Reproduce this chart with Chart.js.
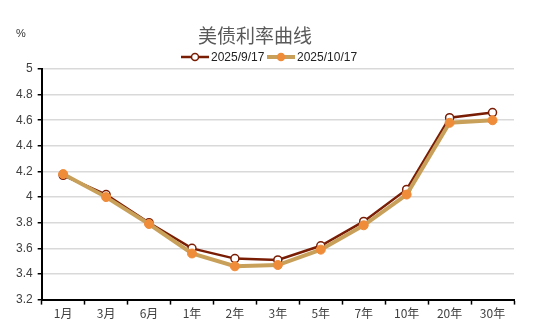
<!DOCTYPE html>
<html>
<head>
<meta charset="utf-8">
<script src="https://cdn.jsdelivr.net/npm/chart.js@4.4.1/dist/chart.umd.min.js"></script>
<style>
  html, body { margin: 0; padding: 0; background: #fff; }
  #wrap { width: 550px; height: 335px; }
</style>
</head>
<body>
<div id="wrap"><canvas id="curve"></canvas></div>
<script>
// tenors and yields (%)
const tenors = ["1月", "3月", "6月", "1年", "2年", "3年", "5年", "7年", "10年", "20年", "30年"];
const yieldsSep = [4.17, 4.02, 3.80, 3.60, 3.52, 3.51, 3.62, 3.81, 4.06, 4.62, 4.66];
const yieldsOct = [4.18, 4.00, 3.79, 3.56, 3.46, 3.47, 3.59, 3.78, 4.02, 4.58, 4.60];
const seriesNames = ["2025/9/17", "2025/10/17"];
const titleText = "美债利率曲线";
const unitText = "%";

const SEP_LINE = "#7a1d05";
const OCT_LINE = "#c9a05a";
const OCT_DOT = "#ef8c3a";

const FONT = "'Liberation Sans', Arial, sans-serif";
const CJK = "'Noto Sans CJK SC', sans-serif";

// title, unit label and legend drawn in the top padding
const headerPlugin = {
    id: "header",
    afterDraw(chart) {
        const ctx = chart.ctx;
        ctx.save();
        ctx.textBaseline = "middle";

        ctx.fillStyle = "#595959";
        ctx.font = "19px " + CJK;
        ctx.textAlign = "center";
        ctx.fillText(titleText, 255, 36);

        ctx.fillStyle = "#333";
        ctx.font = "11px " + FONT;
        ctx.textAlign = "left";
        ctx.fillText(unitText, 16, 34);

        // legend items: short line with a marker, then the label
        const items = [
            { x: 181, line: SEP_LINE, width: 2.5, fill: "#fff", stroke: SEP_LINE, r: 3.5 },
            { x: 267, line: OCT_LINE, width: 4, fill: OCT_DOT, stroke: OCT_DOT, r: 3.5 }
        ];
        ctx.font = "12px " + FONT;
        items.forEach((it, i) => {
            const y = 57;
            ctx.strokeStyle = it.line;
            ctx.lineWidth = it.width;
            ctx.beginPath();
            ctx.moveTo(it.x, y);
            ctx.lineTo(it.x + 28, y);
            ctx.stroke();
            ctx.beginPath();
            ctx.arc(it.x + 14, y, it.r, 0, Math.PI * 2);
            ctx.fillStyle = it.fill;
            ctx.fill();
            ctx.lineWidth = 1.5;
            ctx.strokeStyle = it.stroke;
            ctx.stroke();
            ctx.fillStyle = "#222";
            ctx.fillText(seriesNames[i], it.x + 30, y + 1);
        });
        ctx.restore();
    }
};

new Chart(document.getElementById("curve"), {
    type: "line",
    data: {
        labels: tenors,
        datasets: [
            {
                label: seriesNames[0],
                data: yieldsSep,
                borderColor: SEP_LINE,
                borderWidth: 2.5,
                pointRadius: 4,
                pointBackgroundColor: "#fff",
                pointBorderColor: SEP_LINE,
                pointBorderWidth: 1.5,
                order: 2
            },
            {
                label: seriesNames[1],
                data: yieldsOct,
                borderColor: OCT_LINE,
                borderWidth: 4,
                pointRadius: 4.5,
                pointBackgroundColor: OCT_DOT,
                pointBorderColor: OCT_DOT,
                pointBorderWidth: 1,
                order: 1
            }
        ]
    },
    options: {
        responsive: true,
        maintainAspectRatio: false,
        animation: false,
        layout: { padding: { top: 69, right: 36, bottom: 12, left: 11 } },
        plugins: {
            legend: { display: false },
            title: { display: false },
            tooltip: { enabled: false }
        },
        scales: {
            x: {
                offset: true,
                grid: {
                    offset: true,
                    drawOnChartArea: false,
                    tickLength: 5,
                    tickColor: "#000",
                    tickWidth: 1.5
                },
                border: { color: "#000", width: 2 },
                ticks: { color: "#404040", font: { size: 12, family: CJK }, padding: 2 }
            },
            y: {
                min: 3.2,
                max: 5,
                ticks: {
                    stepSize: 0.2,
                    color: "#404040",
                    font: { size: 12, family: FONT },
                    padding: 5,
                    callback: v => +v.toFixed(1)
                },
                grid: {
                    color: "#d9d9d9",
                    lineWidth: 1.5,
                    tickColor: "#000",
                    tickLength: 4
                },
                border: { color: "#000", width: 2 }
            }
        }
    },
    plugins: [headerPlugin]
});
</script>
</body>
</html>
